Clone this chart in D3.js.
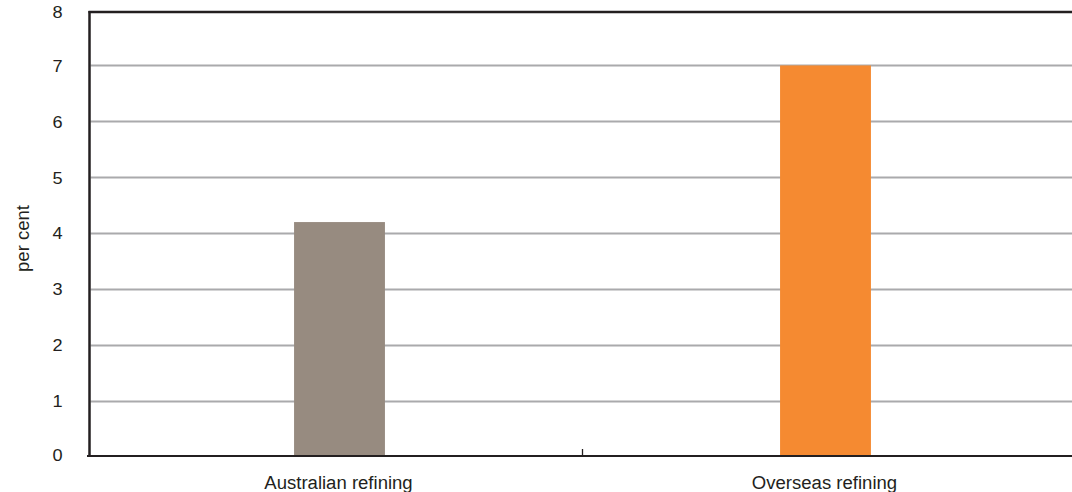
<!DOCTYPE html>
<html>
<head>
<meta charset="utf-8">
<script src="https://cdn.jsdelivr.net/npm/d3@7"></script>
<style>
  html, body { margin: 0; padding: 0; background: #ffffff; }
  svg { display: block; }
  text { font-family: "Liberation Sans", Arial, sans-serif; fill: #231f20; }
</style>
</head>
<body>
<svg id="chart" width="1072" height="492"></svg>
<script>
const categories = ["Australian refining", "Overseas refining"];
const values = [4.2, 7.0];
const barColors = ["#978b80", "#f58a31"];
const yTicks = [0, 1, 2, 3, 4, 5, 6, 7, 8];
const yLabel = "per cent";

const svg = d3.select("#chart");
const W = 1072, H = 492;
const plotLeft = 89.5, plotTop = 12, plotBottom = 456;

const y = d3.scaleLinear().domain([0, 8]).range([457, 9.5]);
const x = d3.scaleBand().domain(categories).range([96.5, 1068.5]).padding(0);
const barW = x.bandwidth() * 0.187;

// gridlines
svg.append("g").selectAll("line")
  .data(yTicks.filter(d => d > 0 && d < 8))
  .join("line")
  .attr("x1", plotLeft + 1).attr("x2", W)
  .attr("y1", d => Math.round(y(d)) + 0.5).attr("y2", d => Math.round(y(d)) + 0.5)
  .attr("stroke", "#aaaaac").attr("stroke-width", 1.8);

// bars
svg.append("g").selectAll("rect")
  .data(categories)
  .join("rect")
  .attr("x", d => x(d) + x.bandwidth() / 2 - barW / 2)
  .attr("width", barW)
  .attr("y", (d, i) => y(values[i]))
  .attr("height", (d, i) => plotBottom - y(values[i]))
  .attr("fill", (d, i) => barColors[i]);

// frame
const frame = svg.append("g").attr("stroke", "#231f20").attr("fill", "none");
frame.append("line").attr("x1", plotLeft - 1).attr("x2", W).attr("y1", plotTop).attr("y2", plotTop).attr("stroke-width", 2.3);
frame.append("line").attr("x1", plotLeft).attr("x2", plotLeft).attr("y1", plotTop - 1).attr("y2", plotBottom + 1).attr("stroke-width", 2.5);
frame.append("line").attr("x1", plotLeft - 2.5).attr("x2", W).attr("y1", plotBottom).attr("y2", plotBottom).attr("stroke-width", 2.2);
// category separator ticks
const sepX = [x.range()[0] + x.step()];
frame.selectAll("line.sep").data(sepX).join("line")
  .attr("class", "sep")
  .attr("x1", d => d).attr("x2", d => d)
  .attr("y1", plotBottom - 7).attr("y2", plotBottom)
  .attr("stroke-width", 1.3);

// y tick labels
svg.append("g").selectAll("text")
  .data(yTicks)
  .join("text")
  .attr("x", 0).attr("y", 0)
  .attr("transform", d => `translate(62.5,${y(d) + 0.5 + (d === 8 ? 2.5 : 0) + (d === 0 ? -2 : 0)}) scale(1.1,1)`)
  .attr("text-anchor", "end")
  .attr("dominant-baseline", "central")
  .style("font-size", "16.5px")
  .text(d => d);

// category labels
svg.append("g").selectAll("text")
  .data(categories)
  .join("text")
  .attr("transform", d => `translate(${x(d) + x.bandwidth() / 2 - 1},488.5) scale(1.03,1)`)
  .attr("text-anchor", "middle")
  .style("font-size", "18px")
  .text(d => d);

// y axis label
svg.append("text")
  .attr("transform", `translate(28.5,238.5) rotate(-90) scale(1.03,1)`)
  .attr("text-anchor", "middle")
  .style("font-size", "18px")
  .text(yLabel);
</script>
</body>
</html>
